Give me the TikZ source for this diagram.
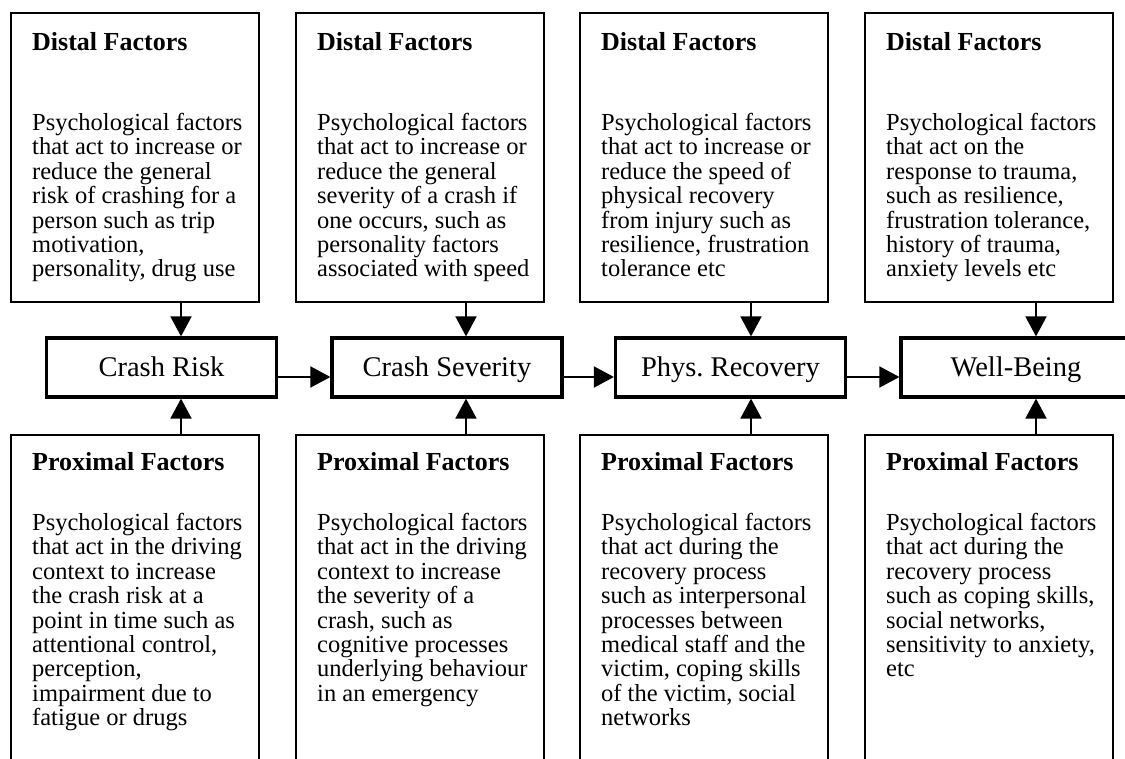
\documentclass[tikz,border=0pt]{standalone}
\usepackage{fontspec}
\setmainfont{Liberation Serif}
\usetikzlibrary{arrows.meta}

\tikzset{
  factorbox/.style={draw,line width=1.6pt,minimum width=248pt,
    inner sep=0pt,anchor=north west},
  stagebox/.style={draw,line width=3.2pt,minimum width=230pt,
    minimum height=59pt,inner sep=0pt,text height=19pt,text depth=0pt,
    font=\fontsize{28.5}{30}\selectfont},
  headtext/.style={anchor=base west,inner sep=0pt,
    font=\fontsize{26}{26}\selectfont\bfseries},
  bodytext/.style={anchor=north west,inner sep=0pt,align=left,
    font=\fontsize{24.5}{24.4}\selectfont},
  flow/.style={line width=1.8pt,-{Triangle[length=20pt,width=21pt]}}
}

\begin{document}
\begin{tikzpicture}[x=1pt,y=-1pt]

\useasboundingbox (0,0) rectangle (1125,759);

%=================================================
% TOP ROW : distal factors
%=================================================

\node[factorbox,minimum height=289pt] (dist1) at (10,12) {};
\node[headtext] (disthead1) at (32,51) {Distal Factors};
\node[bodytext] (disttext1) at (32,113)
{Psychological factors\\
that act to increase or\\
reduce the general\\
risk of crashing for a\\
person such as trip\\
motivation,\\
personality, drug use};

\node[factorbox,minimum height=289pt] (dist2) at (295,12) {};
\node[headtext] (disthead2) at (317,51) {Distal Factors};
\node[bodytext] (disttext2) at (317,113)
{Psychological factors\\
that act to increase or\\
reduce the general\\
severity of a crash if\\
one occurs, such as\\
personality factors\\
associated with speed};

\node[factorbox,minimum height=289pt] (dist3) at (579,12) {};
\node[headtext] (disthead3) at (601,51) {Distal Factors};
\node[bodytext] (disttext3) at (601,113)
{Psychological factors\\
that act to increase or\\
reduce the speed of\\
physical recovery\\
from injury such as\\
resilience, frustration\\
tolerance etc};

\node[factorbox,minimum height=289pt] (dist4) at (864,12) {};
\node[headtext] (disthead4) at (886,51) {Distal Factors};
\node[bodytext] (disttext4) at (886,113)
{Psychological factors\\
that act on the\\
response to trauma,\\
such as resilience,\\
frustration tolerance,\\
history of trauma,\\
anxiety levels etc};

%=================================================
% MIDDLE ROW : outcome stages
%=================================================

\node[stagebox] (risk) at (161.5,367.5) {Crash Risk};
\node[stagebox] (severity) at (447,367.5) {Crash Severity};
\node[stagebox] (recovery) at (730.5,367.5) {Phys.\ Recovery};
\node[stagebox] (wellbeing) at (1016,367.5) {Well-Being};

%=================================================
% BOTTOM ROW : proximal factors
%=================================================

\node[factorbox,minimum height=360pt] (prox1) at (10,434) {};
\node[headtext] (proxhead1) at (32,470) {Proximal Factors};
\node[bodytext] (proxtext1) at (32,513)
{Psychological factors\\
that act in the driving\\
context to increase\\
the crash risk at a\\
point in time such as\\
attentional control,\\
perception,\\
impairment due to\\
fatigue or drugs};

\node[factorbox,minimum height=360pt] (prox2) at (295,434) {};
\node[headtext] (proxhead2) at (317,470) {Proximal Factors};
\node[bodytext] (proxtext2) at (317,513)
{Psychological factors\\
that act in the driving\\
context to increase\\
the severity of a\\
crash, such as\\
cognitive processes\\
underlying behaviour\\
in an emergency};

\node[factorbox,minimum height=360pt] (prox3) at (579,434) {};
\node[headtext] (proxhead3) at (601,470) {Proximal Factors};
\node[bodytext] (proxtext3) at (601,513)
{Psychological factors\\
that act during the\\
recovery process\\
such as interpersonal\\
processes between\\
medical staff and the\\
victim, coping skills\\
of the victim, social\\
networks};

\node[factorbox,minimum height=360pt] (prox4) at (864,434) {};
\node[headtext] (proxhead4) at (886,470) {Proximal Factors};
\node[bodytext] (proxtext4) at (886,513)
{Psychological factors\\
that act during the\\
recovery process\\
such as coping skills,\\
social networks,\\
sensitivity to anxiety,\\
etc};

%=================================================
% ARROWS
%=================================================

% arrow columns
\coordinate (col1) at (181,0);
\coordinate (col2) at (466,0);
\coordinate (col3) at (751,0);
\coordinate (col4) at (1036,0);
% level of the chain arrows
\coordinate (chain) at (0,377);

\draw[flow] (dist1.south -| col1) -- (risk.north -| col1);
\draw[flow] (dist2.south -| col2) -- (severity.north -| col2);
\draw[flow] (dist3.south -| col3) -- (recovery.north -| col3);
\draw[flow] (dist4.south -| col4) -- (wellbeing.north -| col4);

\draw[flow] (prox1.north -| col1) -- (risk.south -| col1);
\draw[flow] (prox2.north -| col2) -- (severity.south -| col2);
\draw[flow] (prox3.north -| col3) -- (recovery.south -| col3);
\draw[flow] (prox4.north -| col4) -- (wellbeing.south -| col4);

\draw[flow] (risk.east |- chain) -- (severity.west |- chain);
\draw[flow] (severity.east |- chain) -- (recovery.west |- chain);
\draw[flow] (recovery.east |- chain) -- (wellbeing.west |- chain);

\end{tikzpicture}
\end{document}
